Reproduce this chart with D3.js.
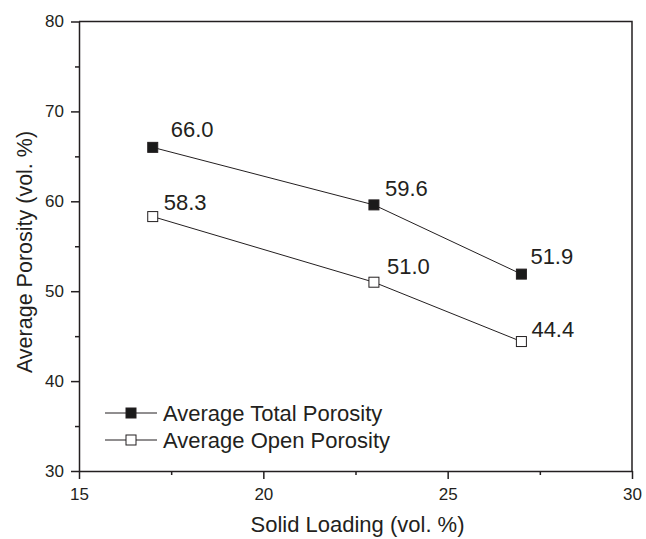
<!DOCTYPE html>
<html>
<head>
<meta charset="utf-8">
<script src="https://cdn.jsdelivr.net/npm/d3@7"></script>
<style>
  body { margin: 0; background: #fff; }
  svg { display: block; font-family: "Liberation Sans", Arial, sans-serif; }
  .axis path, .axis line { stroke: #231f20; }
  .axis text { fill: #231f20; font-size: 17px; }
</style>
</head>
<body>
<div id="chart"></div>
<script>
const solidLoading = [17, 23, 27];
const totalPorosity = [66.0, 59.6, 51.9];
const openPorosity = [58.3, 51.0, 44.4];
const seriesNames = ["Average Total Porosity", "Average Open Porosity"];
const xTicks = [15, 20, 25, 30];
const yTicks = [30, 40, 50, 60, 70, 80];

// label nudges (px) relative to each marker
const totalNudge = [[18, -10], [11, -9], [9, -10]];
const openNudge = [[11, -7], [13, -8], [10, -5]];

const W = 646, H = 539;
const plot = {left: 79, right: 632, top: 21.5, bottom: 471};
const ink = "#231f20";

const svg = d3.select("#chart")
  .append("svg")
  .attr("width", W)
  .attr("height", H);

svg.append("rect").attr("width", W).attr("height", H).attr("fill", "#fff");

const x = d3.scaleLinear().domain([15, 30]).range([plot.left, plot.right]);
const y = d3.scaleLinear().domain([30, 80]).range([plot.bottom, plot.top]);

// minor ticks first, majors drawn over them
svg.append("g")
  .attr("class", "axis")
  .attr("transform", "translate(0," + plot.bottom + ")")
  .call(d3.axisBottom(x).tickValues(d3.range(17.5, 30, 5)).tickSize(4).tickFormat(""))
  .call(g => g.select(".domain").remove())
  .selectAll("line").attr("stroke-width", 1.5);

svg.append("g")
  .attr("class", "axis")
  .attr("transform", "translate(" + plot.left + ",0)")
  .call(d3.axisLeft(y).tickValues(d3.range(35, 80, 10)).tickSize(4).tickFormat(""))
  .call(g => g.select(".domain").remove())
  .selectAll("line").attr("stroke-width", 1.5);

const xAxis = svg.append("g")
  .attr("class", "axis")
  .attr("transform", "translate(0," + plot.bottom + ")")
  .call(d3.axisBottom(x).tickValues(xTicks).tickSize(8).tickPadding(9).tickSizeOuter(0));

const yAxis = svg.append("g")
  .attr("class", "axis")
  .attr("transform", "translate(" + plot.left + ",0)")
  .call(d3.axisLeft(y).tickValues(yTicks).tickSize(8).tickPadding(7).tickSizeOuter(0));

[xAxis, yAxis].forEach(g => {
  g.selectAll("line").attr("stroke-width", 1.5);
  g.select(".domain").attr("stroke-width", 1.5);
  g.selectAll("text").attr("font-family", "Liberation Sans, Arial, sans-serif");
});

// top and right frame
svg.append("path")
  .attr("d", "M" + plot.left + "," + plot.top + "H" + plot.right + "V" + plot.bottom)
  .attr("fill", "none")
  .attr("stroke", ink)
  .attr("stroke-width", 1.5);

// axis titles
svg.append("text")
  .attr("x", (plot.left + plot.right) / 2 + 2)
  .attr("y", 532)
  .attr("text-anchor", "middle")
  .attr("font-size", 22)
  .attr("fill", ink)
  .text("Solid Loading (vol. %)");

svg.append("text")
  .attr("transform", "translate(31.5," + 252 + ") rotate(-90)")
  .attr("text-anchor", "middle")
  .attr("font-size", 21.5)
  .attr("fill", ink)
  .text("Average Porosity (vol. %)");

const line = d3.line().x(d => x(d[0])).y(d => y(d[1]));

const series = [
  {name: seriesNames[0], values: totalPorosity, nudge: totalNudge, fill: "#1a1a1a"},
  {name: seriesNames[1], values: openPorosity, nudge: openNudge, fill: "#fff"}
];

const ms = 10;

series.forEach(s => {
  const pts = solidLoading.map((v, i) => [v, s.values[i]]);

  svg.append("path")
    .datum(pts)
    .attr("d", line)
    .attr("fill", "none")
    .attr("stroke", ink)
    .attr("stroke-width", 1);

  svg.selectAll(null)
    .data(pts)
    .enter().append("rect")
    .attr("x", d => x(d[0]) - ms / 2)
    .attr("y", d => y(d[1]) - ms / 2)
    .attr("width", ms)
    .attr("height", ms)
    .attr("fill", s.fill)
    .attr("stroke", ink)
    .attr("stroke-width", 1);

  svg.selectAll(null)
    .data(pts)
    .enter().append("text")
    .attr("x", (d, i) => x(d[0]) + s.nudge[i][0])
    .attr("y", (d, i) => y(d[1]) + s.nudge[i][1])
    .attr("font-size", 22)
    .attr("fill", ink)
    .text(d => d[1].toFixed(1));
});

// legend
const legend = svg.append("g").attr("transform", "translate(105,413)");
series.forEach((s, i) => {
  const row = legend.append("g").attr("transform", "translate(0," + i * 27 + ")");
  row.append("line")
    .attr("x1", 0).attr("x2", 52)
    .attr("stroke", ink).attr("stroke-width", 1);
  row.append("rect")
    .attr("x", 26 - ms / 2).attr("y", -ms / 2)
    .attr("width", ms).attr("height", ms)
    .attr("fill", s.fill)
    .attr("stroke", ink).attr("stroke-width", 1);
  row.append("text")
    .attr("x", 58)
    .attr("y", 8)
    .attr("font-size", 22)
    .attr("fill", ink)
    .text(s.name);
});
</script>
</body>
</html>
